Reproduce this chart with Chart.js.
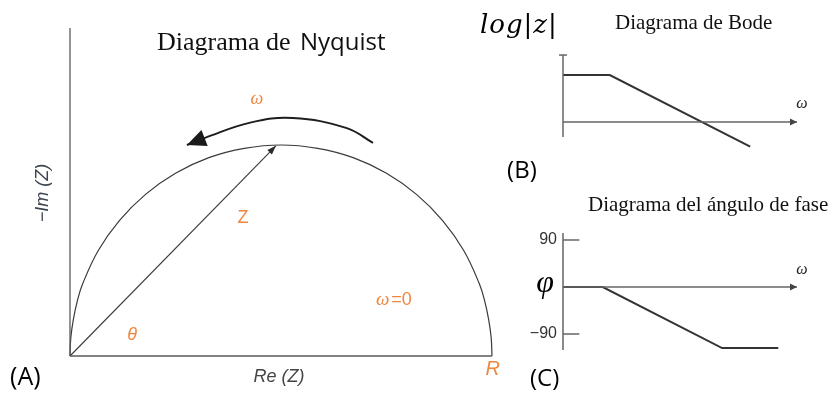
<!DOCTYPE html>
<html>
<head>
<meta charset="utf-8">
<script src="https://cdn.jsdelivr.net/npm/chart.js@4.4.1/dist/chart.umd.min.js"></script>
<style>
  html, body { margin: 0; padding: 0; background: #fff; }
  #wrap { position: relative; width: 833px; height: 394px; overflow: hidden; background: #fff; }
  #wrap canvas { position: absolute; left: 0; top: 0; width: 833px; height: 394px; }
</style>
</head>
<body>
<div id="wrap">
  <canvas id="nyquist" width="833" height="394"></canvas>
  <canvas id="bode" width="833" height="394"></canvas>
  <canvas id="phase" width="833" height="394"></canvas>
</div>
<script>
// ---------- data ----------
// Nyquist plot: Re(Z) in % of R, -Im(Z) in the same units
const semicircleRe = [0, 0.2, 0.8, 1.7, 3, 6.7, 11.7, 17.9, 25, 32.9, 41.3, 50, 58.7, 67.1, 75, 82.1, 88.3, 93.3, 97, 98.3, 99.2, 99.8, 100];
const semicircleIm = [0, 4.4, 8.7, 12.9, 17.1, 25, 32.1, 38.3, 43.3, 47, 49.2, 50, 49.2, 47, 43.3, 38.3, 32.1, 25, 17.1, 12.9, 8.7, 4.4, 0];
const vectorZRe = [0, 48.8];
const vectorZIm = [0, 49.8];
const omegaArrowRe = [71.8, 65.6, 52.8, 42.7, 32, 27.7];
const omegaArrowIm = [50.5, 54, 56.4, 55.3, 51.7, 50];

// Bode magnitude: log ω (arbitrary decades) vs log|z|
const bodeLogW = [0, 2, 8];
const bodeLogZ = [2, 2, -1.05];

// Phase angle: log ω vs φ (degrees)
const phaseLogW = [0, 1.7, 6.8, 9.2];
const phaseDeg = [0, 0, -117, -117];
const phaseTicks = [90, -90];

const ORANGE = '#ef8640';

// ---------- helpers ----------
const xy = (xs, ys) => xs.map((x, i) => ({ x: x, y: ys[i] }));

function lineDs(data, color, width, extra) {
  return Object.assign({
    data: data, showLine: true, borderColor: color, backgroundColor: color,
    borderWidth: width, pointRadius: 0, pointHoverRadius: 0, fill: false,
    tension: 0, clip: false, borderCapStyle: 'butt', borderJoinStyle: 'miter'
  }, extra || {});
}

function baseOptions(pad, xr, yr) {
  return {
    responsive: false, animation: false, events: [],
    layout: { padding: pad },
    plugins: { legend: { display: false }, tooltip: { enabled: false }, title: { display: false } },
    scales: {
      x: { type: 'linear', display: false, min: xr[0], max: xr[1] },
      y: { type: 'linear', display: false, min: yr[0], max: yr[1] }
    }
  };
}

function labelPlugin(items) {
  return {
    id: 'textLabels',
    afterDatasetsDraw(chart) {
      const ctx = chart.ctx, sx = chart.scales.x, sy = chart.scales.y;
      items.forEach(it => {
        ctx.save();
        ctx.font = it.font;
        ctx.fillStyle = it.color || '#000';
        ctx.textAlign = it.align || 'center';
        ctx.textBaseline = it.base || 'middle';
        if (it.spacing) ctx.letterSpacing = it.spacing;
        ctx.translate(sx.getPixelForValue(it.x), sy.getPixelForValue(it.y));
        if (it.rot) ctx.rotate(it.rot);
        ctx.fillText(it.text, 0, 0);
        ctx.restore();
      });
    }
  };
}

function arrowPlugin(list) {
  return {
    id: 'arrowHeads',
    afterDatasetsDraw(chart) {
      const ctx = chart.ctx;
      list.forEach(a => {
        const pts = chart.getDatasetMeta(a.ds).data;
        const p2 = pts[pts.length - 1], p1 = pts[pts.length - 2];
        const ang = Math.atan2(p2.y - p1.y, p2.x - p1.x);
        ctx.save();
        ctx.translate(p2.x, p2.y);
        ctx.rotate(ang + (a.turn || 0));
        ctx.beginPath();
        ctx.moveTo(0, 0);
        ctx.lineTo(-a.len, -a.half);
        ctx.lineTo(-a.len, a.half);
        ctx.closePath();
        ctx.fillStyle = a.color;
        ctx.fill();
        ctx.restore();
      });
    }
  };
}

// ---------- (A) Nyquist ----------
new Chart(document.getElementById('nyquist'), {
  type: 'scatter',
  data: {
    datasets: [
      lineDs([{ x: 0, y: 0 }, { x: 100, y: 0 }], '#5a5a5a', 1.6),
      lineDs([{ x: 0, y: 0 }, { x: 0, y: 77.73 }], '#5a5a5a', 1.3),
      lineDs(xy(semicircleRe, semicircleIm), '#3a3a3a', 1.2, { tension: 0.4 }),
      lineDs(xy(vectorZRe, vectorZIm), '#3a3a3a', 1.1),
      lineDs(xy(omegaArrowRe, omegaArrowIm), '#1e1e1e', 2, { tension: 0.4 })
    ]
  },
  options: baseOptions({ left: 70, top: 28, right: 341, bottom: 38 }, [0, 100], [0, 77.73]),
  plugins: [
    arrowPlugin([
      { ds: 3, len: 9, half: 3.2, color: '#2a2a2a' },
      { ds: 4, len: 19, half: 8.5, color: '#1a1a1a' }
    ]),
    labelPlugin([
      { text: 'Diagrama de', x: 20.6, y: 72.5, align: 'left', base: 'alphabetic', font: '26px "Liberation Serif"', color: '#111' },
      { text: 'Nyquist', x: 54.5, y: 72.5, align: 'left', base: 'alphabetic', font: '24px "Open Sans"', color: '#111' },
      { text: 'ω', x: 44.3, y: 60.9, font: 'italic 18px "Liberation Serif"', color: ORANGE },
      { text: 'Z', x: 41.0, y: 32.7, font: '18px "Liberation Sans"', color: ORANGE },
      { text: 'θ', x: 14.7, y: 4.9, font: 'italic 18px "Liberation Sans"', color: ORANGE },
      { text: 'ω', x: 74.1, y: 13.2, font: 'italic 19px "Liberation Serif"', color: ORANGE },
      { text: '=0', x: 76.1, y: 13.2, align: 'left', font: '18px "Liberation Sans"', color: ORANGE },
      { text: 'R', x: 100.2, y: -3.3, font: 'italic 20px "Liberation Sans"', color: ORANGE },
      { text: 'Re (Z)', x: 49.5, y: -5.0, font: 'italic 18px "Liberation Sans"', color: '#444' },
      { text: '−Im (Z)', x: -6.4, y: 38.6, rot: -Math.PI / 2, font: 'italic 18px "Liberation Sans"', color: '#3b4550' },
      { text: '(A)', x: -14.2, y: -5.2, align: 'left', font: '25px "Open Sans"', color: '#000' }
    ])
  ]
});

// ---------- (B) Bode magnitude ----------
new Chart(document.getElementById('bode'), {
  type: 'scatter',
  data: {
    datasets: [
      lineDs([{ x: 0, y: 0 }, { x: 10, y: 0 }], '#666', 1.5),
      lineDs([{ x: 0, y: -0.64 }, { x: 0, y: 2.85 }], '#666', 1.5),
      lineDs([{ x: -0.17, y: 2.85 }, { x: 0.17, y: 2.85 }], '#666', 1.5),
      lineDs(xy(bodeLogW, bodeLogZ), '#333', 2)
    ]
  },
  options: baseOptions({ left: 563, top: 52, right: 36, bottom: 244 }, [0, 10], [-1.1915, 2.9787]),
  plugins: [
    arrowPlugin([{ ds: 0, len: 7, half: 3.5, color: '#444' }]),
    labelPlugin([
      { text: 'log|z|', x: -3.547, y: 3.774, align: 'left', base: 'alphabetic', font: 'italic 26px "DejaVu Serif"', spacing: '1px', color: '#000' },
      { text: 'Diagrama de Bode', x: 2.222, y: 3.957, align: 'left', base: 'alphabetic', font: '21px "Liberation Serif"', color: '#111' },
      { text: 'ω', x: 10.21, y: 0.766, font: 'italic 16px "Liberation Serif"', color: '#222' },
      { text: '(B)', x: -2.39, y: -2.085, align: 'left', font: '24px "Open Sans"', color: '#000' }
    ])
  ]
});

// ---------- (C) Phase angle ----------
const phaseDatasets = [
  lineDs([{ x: 0, y: 0 }, { x: 10, y: 0 }], '#666', 1.5),
  lineDs([{ x: 0, y: 103.4 }, { x: 0, y: -120.6 }], '#666', 1.5)
];
phaseTicks.forEach(t => phaseDatasets.push(lineDs([{ x: 0, y: t }, { x: 0.7, y: t }], '#666', 1.5)));
phaseDatasets.push(lineDs(xy(phaseLogW, phaseDeg), '#333', 2));

const phaseLabels = [
  { text: 'Diagrama del ángulo de fase', x: 1.068, y: 145.5, align: 'left', base: 'alphabetic', font: '21px "Liberation Serif"', color: '#111' },
  { text: 'φ', x: -0.77, y: 5.7, font: 'italic 32px "Liberation Serif"', color: '#000' },
  { text: 'ω', x: 10.21, y: 32.6, font: 'italic 16px "Liberation Serif"', color: '#222' },
  { text: '(C)', x: -1.41, y: -176.2, align: 'left', font: '24px "Open Sans"', color: '#000' }
];
phaseTicks.forEach(t => phaseLabels.push({
  text: String(t).replace('-', '−'), x: -0.256, y: t, align: 'right',
  font: '16px "Liberation Sans"', color: '#333'
}));

new Chart(document.getElementById('phase'), {
  type: 'scatter',
  data: { datasets: phaseDatasets },
  options: baseOptions({ left: 563, top: 225, right: 36, bottom: 39 }, [0, 10], [-130.21, 118.72]),
  plugins: [
    arrowPlugin([{ ds: 0, len: 7, half: 3.5, color: '#444' }]),
    labelPlugin(phaseLabels)
  ]
});
</script>
</body>
</html>
